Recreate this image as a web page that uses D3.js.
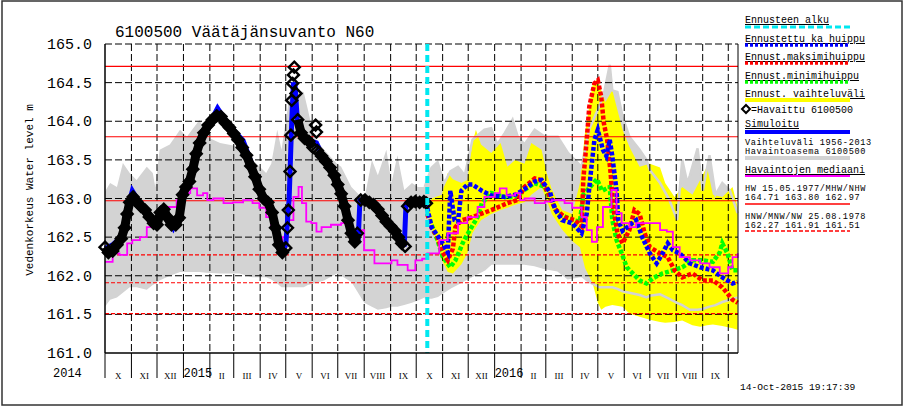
<!DOCTYPE html>
<html><head><meta charset="utf-8">
<script src="https://cdn.jsdelivr.net/npm/d3@7"></script>
<style>body{margin:0;background:#fff}svg{display:block}text{font-family:"Liberation Mono",monospace;fill:#000}</style>
</head><body><svg id="c" width="906" height="408"></svg>
<script>
const title = "6100500 Väätäjänsuvanto N60";
const yAxisTitle = "Vedenkorkeus Water level m";
const timestamp = "14-Oct-2015 19:17:39";
const yTicks = [161.0,161.5,162.0,162.5,163.0,163.5,164.0,164.5,165.0];
const monthLabels = ["I","II","III","IV","V","VI","VII","VIII","IX","X","XI","XII"];
const firstYearLabel = "2014";
const forecastStart = "2015-10-14";
const hwLevels = [164.71, 163.80, 162.97];
const nwLevels = [162.27, 161.91, 161.51];

// Vaihteluväli 1956-2013 (grey band)
const greyDates = ["2014-10-01","2014-10-07","2014-10-15","2014-10-22","2014-10-30","2014-11-07","2014-11-19","2014-11-26","2014-11-29","2014-12-04","2014-12-16","2014-12-28","2015-01-05","2015-01-20","2015-01-28","2015-02-13","2015-03-08","2015-03-23","2015-04-08","2015-04-14","2015-04-21","2015-04-26","2015-05-05","2015-05-12","2015-05-22","2015-05-27","2015-06-03","2015-06-15","2015-06-30","2015-07-05","2015-07-17","2015-08-01","2015-08-10","2015-08-17","2015-08-27","2015-09-02","2015-09-09","2015-09-17","2015-09-26","2015-10-03","2015-10-11",
"2015-10-19","2015-10-26","2015-11-03","2015-11-10","2015-11-19","2015-11-27","2015-12-06","2015-12-20","2015-12-28","2016-01-04","2016-01-13","2016-01-22","2016-01-28","2016-02-05","2016-02-17","2016-02-29","2016-03-15","2016-03-27","2016-04-12","2016-04-21","2016-05-03","2016-05-09","2016-05-15","2016-05-18","2016-05-24","2016-05-30","2016-06-07","2016-06-19","2016-06-27","2016-07-01","2016-07-13","2016-07-24","2016-08-02","2016-08-08","2016-08-14","2016-08-17","2016-08-26","2016-09-01","2016-09-09","2016-09-16","2016-09-24","2016-10-03","2016-10-12"];
const greyUpper = [163.09,163.20,163.15,163.46,163.33,163.24,163.41,163.33,163.15,163.63,163.70,163.89,163.80,164.02,163.80,163.72,163.67,163.50,163.33,163.45,163.89,163.63,164.30,164.40,164.38,164.15,163.80,163.63,163.45,163.41,163.15,162.98,163.50,163.30,163.63,163.20,163.56,163.11,163.20,163.15,163.15,
163.40,163.47,163.20,163.35,163.41,163.30,163.76,163.89,163.91,163.70,163.85,164.02,163.80,163.70,163.89,163.80,163.80,163.59,163.41,163.90,164.20,164.40,164.73,164.40,164.38,164.06,163.80,163.63,163.50,163.37,163.20,162.98,162.72,163.50,163.20,163.30,163.65,163.10,163.56,163.05,163.20,163.10,162.81];
const greyLower = [161.60,161.69,161.72,161.78,161.85,161.85,161.82,161.88,161.90,161.94,162.00,162.05,162.05,162.05,162.04,162.03,162.03,161.98,161.98,161.95,161.90,161.85,161.85,161.85,161.85,161.88,161.90,161.94,162.03,162.00,161.92,161.65,161.60,161.56,161.58,161.60,161.60,161.62,161.65,161.68,161.72,
161.72,161.74,161.80,161.85,161.90,161.95,162.00,162.08,162.16,162.16,162.16,162.16,162.16,162.16,162.14,162.10,162.07,161.97,162.00,161.92,161.85,161.85,161.85,161.85,161.83,161.80,161.78,161.75,161.72,161.74,161.76,161.70,161.65,161.62,161.58,161.56,161.56,161.57,161.60,161.62,161.66,161.69,161.72];

// Havaintojen mediaani
const medDates = ["2014-10-01","2014-10-10","2014-10-18","2014-10-27","2014-11-02","2014-11-11","2014-11-19","2014-11-26","2014-12-04","2014-12-12","2014-12-24","2014-12-31","2015-01-09","2015-01-17","2015-01-24","2015-01-29","2015-02-05","2015-02-17","2015-02-28","2015-03-12","2015-03-23","2015-03-31","2015-04-08","2015-04-14","2015-04-21","2015-04-27","2015-05-03","2015-05-10","2015-05-16","2015-05-20","2015-05-25","2015-05-31","2015-06-06","2015-06-12","2015-06-23","2015-07-05","2015-07-17","2015-07-24","2015-08-01","2015-08-13","2015-08-25","2015-09-02","2015-09-09","2015-09-21","2015-09-30","2015-10-08","2015-10-14","2015-10-26","2015-10-28","2015-11-07","2015-11-19","2015-11-30","2015-12-12","2015-12-20","2016-01-01","2016-01-07","2016-01-15","2016-01-25","2016-01-31","2016-02-05","2016-02-17","2016-02-29","2016-03-08","2016-03-23","2016-04-01","2016-04-12","2016-04-18","2016-04-24","2016-04-30","2016-05-07","2016-05-17","2016-05-23","2016-05-29","2016-06-07","2016-06-15","2016-06-27","2016-07-13","2016-07-21","2016-07-28","2016-08-05","2016-08-17","2016-08-29","2016-09-09","2016-09-21","2016-10-01","2016-10-06","2016-10-12"];
const medValues = [162.18,162.29,162.27,162.42,162.46,162.50,162.63,162.72,162.81,162.89,162.98,163.07,163.13,163.04,163.07,162.98,163.00,162.94,162.95,162.98,162.94,162.88,162.76,162.63,162.44,162.50,162.72,163.02,163.15,162.94,162.70,162.68,162.57,162.63,162.66,162.68,162.59,162.59,162.33,162.16,162.16,162.20,162.14,162.07,162.20,162.22,162.29,162.29,162.46,162.55,162.68,162.76,162.89,163.02,163.07,163.13,163.04,163.07,162.98,163.00,162.94,162.96,162.98,162.94,162.88,162.76,162.59,162.44,162.63,162.89,163.11,162.81,162.68,162.63,162.68,162.68,162.59,162.57,162.37,162.24,162.20,162.16,162.11,162.03,162.11,162.24,162.29];

// Simuloitu
const simDates = ["2014-10-01","2014-10-10","2014-10-18","2014-10-24","2014-10-28","2014-11-02","2014-11-10","2014-11-19","2014-11-26","2014-12-01","2014-12-06","2014-12-12","2014-12-20","2014-12-27","2015-01-01","2015-01-06","2015-01-11","2015-01-17","2015-01-24","2015-02-01","2015-02-10","2015-02-20","2015-03-01","2015-03-12","2015-03-23","2015-03-31","2015-04-08","2015-04-14","2015-04-18","2015-04-22","2015-04-27","2015-05-01","2015-05-05","2015-05-08","2015-05-10","2015-05-12","2015-05-15","2015-05-20","2015-05-28","2015-06-06","2015-06-12","2015-06-21","2015-06-29","2015-07-05","2015-07-11","2015-07-17","2015-07-25","2015-07-27","2015-08-05","2015-08-13","2015-08-25","2015-09-06","2015-09-14","2015-09-17","2015-09-19","2015-09-30","2015-10-08","2015-10-14"];
const simValues = [162.35,162.40,162.48,162.62,162.90,163.10,162.95,162.85,162.72,162.68,162.85,162.78,162.62,162.80,163.05,163.18,163.35,163.62,163.82,163.98,164.17,164.00,163.88,163.75,163.42,163.12,162.97,162.82,162.62,162.42,162.30,162.40,163.00,164.00,164.50,164.45,163.95,163.85,163.75,163.72,163.58,163.42,163.28,163.05,162.82,162.55,162.48,162.98,162.95,162.88,162.70,162.58,162.45,162.38,162.92,162.95,162.95,162.90];

// Havaittu 6100500 (null = break in record)
const obsDates = ["2014-10-01","2014-10-05","2014-10-10","2014-10-15","2014-10-20","2014-10-24","2014-10-27","2014-10-30","2014-11-03","2014-11-07","2014-11-12","2014-11-17","2014-11-22","2014-11-27","2014-12-01","2014-12-05","2014-12-09","2014-12-13","2014-12-18","2014-12-23","2014-12-27","2014-12-31","2015-01-04","2015-01-08","2015-01-12","2015-01-16","2015-01-20","2015-01-25","2015-01-30","2015-02-04","2015-02-09","2015-02-14","2015-02-19","2015-02-24","2015-03-01","2015-03-06","2015-03-11","2015-03-16","2015-03-21","2015-03-26","2015-03-31","2015-04-05","2015-04-10","2015-04-15","2015-04-19","2015-04-23","2015-04-27","2015-05-01","2015-05-02","2015-05-03","2015-05-03","2015-05-04","2015-05-04","2015-05-06","2015-05-06","2015-05-07","2015-05-07","2015-05-08","2015-05-08","2015-05-09","2015-05-09","2015-05-10","2015-05-10","2015-05-11","2015-05-11","2015-05-13","2015-05-14","2015-05-15","2015-05-19","2015-05-23","2015-05-28","2015-06-02","2015-06-03","2015-06-05","2015-06-05","2015-06-06","2015-06-06","2015-06-07","2015-06-12","2015-06-17","2015-06-22","2015-06-27","2015-07-01","2015-07-05","2015-07-09","2015-07-13","2015-07-17","2015-07-21","2015-07-24","2015-07-26","2015-07-28","2015-08-02","2015-08-07","2015-08-12","2015-08-17","2015-08-22","2015-08-27","2015-09-01","2015-09-06","2015-09-10","2015-09-14","2015-09-18","2015-09-19","2015-09-21","2015-09-25","2015-09-30","2015-10-05","2015-10-10","2015-10-13"];
const obsValues = [162.37,162.30,162.32,162.40,162.48,162.62,162.80,162.95,163.02,162.96,162.90,162.85,162.76,162.68,162.66,162.82,162.86,162.76,162.66,162.66,162.75,163.05,163.15,163.22,163.38,163.58,163.72,163.85,163.95,164.02,164.07,164.06,163.98,163.92,163.84,163.76,163.66,163.56,163.42,163.28,163.12,163.00,162.95,162.82,162.62,162.40,162.30,162.36,null,162.62,null,162.85,null,163.35,null,163.82,null,164.27,null,164.49,null,164.60,null,164.70,null,164.36,null,164.02,163.85,163.78,163.74,163.66,null,163.95,null,163.86,null,163.62,163.55,163.48,163.40,163.30,163.18,163.06,162.90,162.72,162.55,162.44,162.55,null,162.98,162.98,162.95,162.92,162.86,162.78,162.70,162.64,162.58,162.50,162.42,162.38,null,162.90,162.95,162.96,162.95,162.96,162.94];

// Ennustettu ka huippu
const meanDates = ["2015-10-14","2015-10-19","2015-10-26","2015-11-01","2015-11-07","2015-11-10","2015-11-15","2015-11-19","2015-11-23","2015-11-30","2015-12-06","2015-12-17","2015-12-28","2016-01-13","2016-01-25","2016-02-05","2016-02-17","2016-02-25","2016-03-06","2016-03-12","2016-03-20","2016-04-01","2016-04-12","2016-04-18","2016-04-22","2016-04-27","2016-05-01","2016-05-07","2016-05-11","2016-05-15","2016-05-18","2016-05-23","2016-05-25","2016-05-30","2016-06-07","2016-06-15","2016-06-22","2016-07-01","2016-07-09","2016-07-16","2016-07-22","2016-07-28","2016-08-05","2016-08-17","2016-08-29","2016-09-13","2016-09-24","2016-10-06","2016-10-12"];
const meanValues = [162.88,162.63,162.52,162.42,162.30,163.10,162.72,162.70,163.10,163.18,163.18,163.10,163.04,163.02,163.05,163.12,163.22,163.24,163.08,162.86,162.72,162.68,162.55,162.80,163.25,163.76,163.89,163.63,163.55,163.76,163.55,163.10,162.72,162.58,162.65,162.72,162.50,162.29,162.16,162.29,162.42,162.33,162.29,162.16,162.11,162.07,161.98,161.90,161.92];

// Ennust. maksimihuippu
const maxDates = ["2015-10-14","2015-10-19","2015-10-26","2015-11-01","2015-11-07","2015-11-13","2015-11-16","2015-11-23","2015-11-30","2015-12-06","2015-12-28","2016-01-16","2016-01-28","2016-02-05","2016-02-17","2016-02-25","2016-03-06","2016-03-12","2016-03-23","2016-04-04","2016-04-12","2016-04-14","2016-04-18","2016-04-21","2016-04-27","2016-05-01","2016-05-05","2016-05-08","2016-05-12","2016-05-16","2016-05-19","2016-05-24","2016-05-30","2016-06-07","2016-06-13","2016-06-19","2016-06-25","2016-07-01","2016-07-13","2016-07-22","2016-07-30","2016-08-08","2016-08-20","2016-09-01","2016-09-13","2016-09-24","2016-10-06","2016-10-12"];
const maxValues = [162.80,162.62,162.50,162.30,162.20,162.35,162.63,162.72,162.74,162.76,162.85,162.94,162.98,163.15,163.26,163.24,163.02,162.86,162.76,162.72,162.64,163.24,163.76,164.19,164.49,164.53,164.32,163.98,163.76,163.33,162.89,162.55,162.42,162.59,162.85,162.80,162.55,162.37,162.29,162.24,162.07,161.98,162.03,161.94,161.94,161.85,161.69,161.65];

// Ennust. minimihuippu
const minDates = ["2015-10-14","2015-10-26","2015-11-01","2015-11-10","2015-11-16","2015-11-26","2015-12-05","2015-12-12","2015-12-17","2015-12-28","2016-01-13","2016-01-25","2016-02-05","2016-02-17","2016-02-29","2016-03-06","2016-03-15","2016-04-01","2016-04-10","2016-04-14","2016-04-22","2016-04-30","2016-05-06","2016-05-15","2016-05-18","2016-05-23","2016-05-29","2016-06-04","2016-06-11","2016-06-19","2016-06-27","2016-07-05","2016-07-16","2016-07-28","2016-08-08","2016-08-20","2016-09-01","2016-09-13","2016-09-21","2016-09-24","2016-09-30","2016-10-06","2016-10-12"];
const minValues = [162.80,162.46,162.25,162.11,162.20,162.46,162.63,162.76,162.94,163.07,163.02,163.02,163.11,163.20,163.15,163.00,162.81,162.72,162.70,163.05,163.15,163.25,163.10,163.15,162.72,162.46,162.29,162.11,162.03,161.94,161.90,161.97,162.03,162.07,162.11,162.20,162.20,162.18,162.30,162.42,162.29,162.07,162.07];

// Ennust. vaihteluväli
const rangeDates = ["2015-10-14","2015-10-19","2015-10-31","2015-11-07","2015-11-13","2015-11-23","2015-11-30","2015-12-06","2015-12-10","2015-12-16","2015-12-28","2016-01-08","2016-01-16","2016-01-25","2016-02-05","2016-02-13","2016-02-25","2016-03-02","2016-03-08","2016-03-20","2016-04-01","2016-04-10","2016-04-16","2016-04-25","2016-05-01","2016-05-05","2016-05-10","2016-05-18","2016-05-30","2016-06-07","2016-06-19","2016-07-01","2016-07-13","2016-07-19","2016-07-30","2016-08-08","2016-08-20","2016-08-29","2016-09-06","2016-09-13","2016-09-24","2016-10-06","2016-10-12"];
const rangeUpper = [162.90,163.00,163.05,163.33,163.25,163.20,163.24,163.72,163.89,163.70,163.59,163.72,163.41,163.50,163.45,163.72,163.63,163.33,163.12,162.85,162.80,163.20,163.85,164.49,164.55,164.40,164.25,164.40,163.89,163.67,163.41,163.45,163.40,163.20,163.02,163.15,163.05,163.24,163.41,163.05,163.02,163.15,162.89];
const rangeLower = [162.85,162.63,162.20,162.05,162.03,162.15,162.29,162.55,162.62,162.72,162.80,162.85,162.88,162.92,162.95,163.05,163.15,162.98,162.80,162.60,162.45,162.37,162.10,161.90,161.65,161.56,161.60,161.62,161.60,161.51,161.47,161.43,161.40,161.39,161.40,161.42,161.36,161.34,161.36,161.37,161.35,161.32,161.30];

const svg = d3.select("#c");
const parse = d3.utcParse("%Y-%m-%d");
const x = d3.scaleUtc().domain([parse("2014-10-01"), new Date(Date.UTC(2016,9,12,10))]).range([105,738]);
const y = d3.scaleLinear().domain([161,165]).range([353,44]);
const X0 = 105, X1 = 738, Y0 = 353, Y1 = 44;
const zip = (ds, vs) => ds.map((d,i)=>({d:parse(d), v:vs[i]}));
const line = d3.line().defined(p=>p.v!=null).x(p=>x(p.d)).y(p=>y(p.v));

svg.append("rect").attr("width",906).attr("height",408).attr("fill","#fff");
svg.append("rect").attr("x",2).attr("y",1).attr("width",900).attr("height",404)
  .attr("fill","none").attr("stroke","#333").attr("stroke-width",1.5);

const plot = svg.append("g");
const grey = greyDates.map((d,i)=>({d:parse(d), hi:greyUpper[i], lo:greyLower[i]}));
plot.append("path").datum(grey).attr("fill","#d3d3d3")
  .attr("d", d3.area().x(p=>x(p.d)).y0(p=>y(p.lo)).y1(p=>y(p.hi)));
const rng = rangeDates.map((d,i)=>({d:parse(d), hi:rangeUpper[i], lo:rangeLower[i]}));
plot.append("path").datum(rng).attr("fill","#ffff00")
  .attr("d", d3.area().x(p=>x(p.d)).y0(p=>y(p.lo)).y1(p=>y(p.hi)));
const fcStart = parse(forecastStart);
const greyF = grey.filter(p=>p.d >= d3.utcDay.offset(fcStart,-10));
["hi","lo"].forEach(k=>{
  plot.append("path").datum(greyF).attr("fill","none").attr("stroke","#d3d3d3").attr("stroke-width",2.5)
    .attr("d", d3.line().x(p=>x(p.d)).y(p=>y(p[k])));
});

// grid
const months = d3.utcMonth.range(parse("2014-10-01"), x.domain()[1]);
plot.selectAll(".vg").data(months.slice(1)).join("line")
  .attr("x1",d=>x(d)).attr("x2",d=>x(d)).attr("y1",Y1).attr("y2",Y0)
  .attr("stroke","#000").attr("stroke-width",1).attr("stroke-dasharray","7,3");
plot.selectAll(".hg").data(yTicks.filter(v=>v>161)).join("line")
  .attr("x1",X0).attr("x2",X1).attr("y1",d=>y(d)).attr("y2",d=>y(d))
  .attr("stroke","#000").attr("stroke-width",1).attr("stroke-dasharray","7,3");
plot.selectAll(".hw").data(hwLevels).join("line")
  .attr("x1",X0).attr("x2",X1).attr("y1",d=>y(d)).attr("y2",d=>y(d))
  .attr("stroke","#ff0000").attr("stroke-width",1.1);
plot.selectAll(".nw").data(nwLevels).join("line")
  .attr("x1",X0).attr("x2",X1).attr("y1",d=>y(d)).attr("y2",d=>y(d))
  .attr("stroke","#ff0000").attr("stroke-width",1.1).attr("stroke-dasharray","4,2");

// forecasts
const fc = [[minDates,minValues,"#00ff00"],[maxDates,maxValues,"#ff0000"],[meanDates,meanValues,"#0000ff"]];
fc.forEach(([ds,vs,c])=>{
  plot.append("path").datum(zip(ds,vs)).attr("fill","none").attr("stroke",c)
    .attr("stroke-width",4.5).attr("stroke-dasharray","4,2").attr("d",line);
});
// median
plot.append("path").datum(zip(medDates,medValues)).attr("fill","none").attr("stroke","#ff00ff")
  .attr("stroke-width",1.8).attr("d", d3.line().x(p=>x(p.d)).y(p=>y(p.v)).curve(d3.curveStepAfter));
// simulated
plot.append("path").datum(zip(simDates,simValues)).attr("fill","none").attr("stroke","#0000ff")
  .attr("stroke-width",5).attr("d",line);
// observed
const obs = zip(obsDates,obsValues);
plot.append("path").datum(obs).attr("fill","none").attr("stroke","#000")
  .attr("stroke-width",9).attr("stroke-linejoin","round").attr("d",line);
const diamond = "M0,-5.5L5.5,0L0,5.5L-5.5,0Z";
plot.selectAll(".ob").data(obs.filter(p=>p.v!=null)).join("path")
  .attr("transform",p=>`translate(${x(p.d)},${y(p.v)})`).attr("d",diamond)
  .attr("fill","none").attr("stroke","#000").attr("stroke-width",2.4);
plot.append("line").attr("x1",x(fcStart)).attr("x2",x(fcStart)).attr("y1",Y1).attr("y2",Y0)
  .attr("stroke","#00e8f0").attr("stroke-width",4).attr("stroke-dasharray","7,4");

// axes
svg.append("line").attr("x1",X0).attr("x2",X0).attr("y1",Y1).attr("y2",Y0).attr("stroke","#000").attr("stroke-width",1.5);
svg.append("line").attr("x1",X1).attr("x2",X1).attr("y1",Y1).attr("y2",Y0).attr("stroke","#000").attr("stroke-width",1);
svg.append("line").attr("x1",X0).attr("x2",X1).attr("y1",Y0).attr("y2",Y0).attr("stroke","#000").attr("stroke-width",1.5);
svg.selectAll(".mt").data(months).join("line")
  .attr("x1",d=>x(d)).attr("x2",d=>x(d)).attr("y1",Y0).attr("y2",378).attr("stroke","#000").attr("stroke-width",1);
svg.selectAll(".yl").data(yTicks).join("text")
  .attr("x",92).attr("y",d=>y(d)+5).attr("text-anchor","end").attr("font-size",15)
  .text(d=>d.toFixed(1));
const fullMonths = months.filter(m=>d3.utcMonth.offset(m,1) <= x.domain()[1]);
fullMonths.forEach(m=>{
  const mi = m.getUTCMonth();
  if (mi===0) {
    svg.append("text").attr("x",x(m)).attr("y",377).attr("font-size",12).text(m.getUTCFullYear());
  } else {
    svg.append("text").attr("x",(x(m)+x(d3.utcMonth.offset(m,1)))/2).attr("y",379)
      .attr("text-anchor","middle").attr("font-size",9).style("font-family","'Liberation Serif',serif")
      .text(monthLabels[mi]);
  }
});
svg.append("text").attr("x",53).attr("y",377).attr("font-size",12).text(firstYearLabel);
svg.append("text").attr("x",740).attr("y",390).attr("font-size",9.6).text(timestamp);
svg.append("text").attr("x",115).attr("y",37).attr("font-size",16).text(title);
svg.append("text").attr("transform","translate(33,190) rotate(-90)").attr("text-anchor","middle")
  .attr("font-size",11).text(yAxisTitle);

// legend
const LX = 745, LX2 = 850;
const lg = svg.append("g");
function ltext(t,yy,ul,fs){ lg.append("text").attr("x",LX).attr("y",yy).attr("font-size",fs||10)
  .attr("letter-spacing", fs ? 0.6 : null)
  .style("text-decoration", ul?"underline":null).text(t); }
function lline(yy,c,w,dash){ lg.append("line").attr("x1",LX).attr("x2",LX2).attr("y1",yy).attr("y2",yy)
  .attr("stroke",c).attr("stroke-width",w).attr("stroke-dasharray",dash||null); }
ltext("Ennusteen alku",23,true); lline(27,"#00e8f0",3,"6,3");
ltext("Ennustettu ka huippu",42,true); lline(45,"#0000ff",3.5,"3,2");
ltext("Ennust.maksimihuippu",60,true); lline(63,"#ff0000",3.5,"3,2");
ltext("Ennust.minimihuippu",79,true); lline(82,"#00ff00",3.5,"3,2");
ltext("Ennust. vaihteluväli",97,true); lline(100,"#ffff00",4);
lg.append("path").attr("transform","translate(746,109)").attr("d","M0,-4L4,0L0,4L-4,0Z")
  .attr("fill","none").attr("stroke","#000").attr("stroke-width",2);
lg.append("text").attr("x",751).attr("y",113).attr("font-size",10).text("=Havaittu 6100500");
ltext("Simuloitu",127,true); lline(132,"#0000ff",4);
ltext("Vaihteluväli 1956-2013",145,false,8.6); ltext("Havaintoasema 6100500",154,false,8.6); lline(158,"#d3d3d3",4);
ltext("Havaintojen mediaani",173,true); lline(176,"#ff00ff",2);
ltext("HW 15.05.1977/MHW/NHW",191,false,8.6); ltext("164.71 163.80 162.97",200,false,8.6); lline(204,"#ff0000",1.5);
ltext("HNW/MNW/NW 25.08.1978",219,false,8.6); ltext("162.27 161.91 161.51",228,false,8.6); lline(231,"#ff0000",1.5,"4,2");
</script></body></html>
